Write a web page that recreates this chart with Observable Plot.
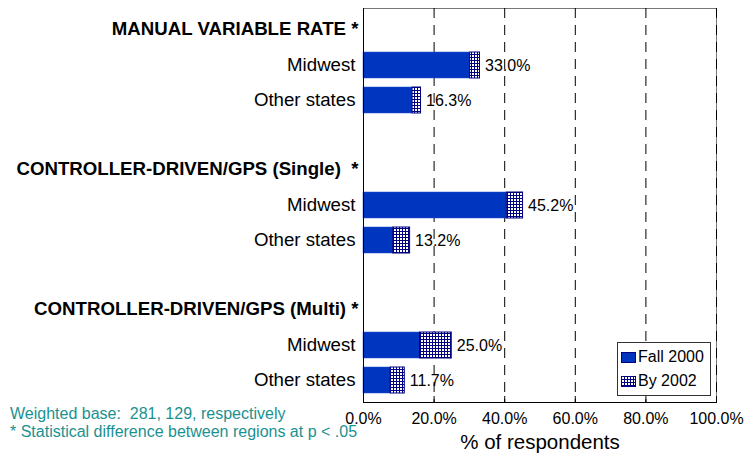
<!DOCTYPE html>
<html><head><meta charset="utf-8">
<script src="https://cdn.jsdelivr.net/npm/d3@7"></script>
<script src="https://cdn.jsdelivr.net/npm/@observablehq/plot@0.6"></script>
<style>
body{margin:0;background:#fff;font-family:"Liberation Sans",Arial,sans-serif;}
#wrap{position:relative;width:745px;height:471px;}
#legend{position:absolute;left:617px;top:342px;width:92px;height:52px;border:1px solid #333;background:#fff;font-size:16px;color:#000;}
#legend .item{position:absolute;left:3px;display:flex;align-items:center;height:18px;}
#legend svg{margin-right:2px;}
#notes{position:absolute;left:10px;top:405px;font-size:16px;line-height:18px;color:#1a9191;white-space:pre;}
</style></head><body><div id="wrap"></div>
<script>
const groups = ["MANUAL VARIABLE RATE *", "CONTROLLER-DRIVEN/GPS (Single)  *", "CONTROLLER-DRIVEN/GPS (Multi) *"];
const regions = ["Midwest", "Other states"];
const fall2000 = [30.2, 13.9, 40.6, 8.4, 16.0, 7.7];
const by2002 = [33.0, 16.3, 45.2, 13.2, 25.0, 11.7];
const xTicks = [0, 20, 40, 60, 80, 100];
const legendLabels = ["Fall 2000", "By 2002"];
const footnotes = ["Weighted base:  281, 129, respectively", "* Statistical difference between regions at p < .05"];
const xLabel = "% of respondents";

const BLUE = "#0035c0", NAVY = "#000080";

const rows = [];
groups.forEach((g, gi) => regions.forEach((r, ri) => {
  const i = gi * regions.length + ri;
  rows.push({key: `${gi}|${r}`, region: r, fall: fall2000[i], total: by2002[i]});
}));
const domain = [];
groups.forEach((g, gi) => {
  domain.push(`${gi}|title`);
  regions.forEach(r => domain.push(`${gi}|${r}`));
  if (gi < groups.length - 1) domain.push(`${gi}|gap`);
});
const titles = groups.map((g, gi) => ({key: `${gi}|title`, text: g}));

const chart = Plot.plot({
  width: 745, height: 471,
  marginLeft: 363, marginRight: 29, marginTop: 8, marginBottom: 69,
  style: {fontFamily: '"Liberation Sans", Arial, sans-serif', background: "#fff", color: "#000"},
  x: {domain: [0, 100]},
  y: {domain, paddingInner: 0.26, paddingOuter: 0.13},
  marks: [
    Plot.frame({stroke: "#777"}),
    Plot.ruleX(xTicks.slice(1), {x: d => d, stroke: "#000", strokeDasharray: "10,7"}),
    Plot.tickX(xTicks.slice(1), {x: d => d, stroke: "#000", insetTop: 388}),
    Plot.barX(rows, {y: "key", x1: 0, x2: "fall", fill: BLUE, stroke: "#2a4fd0", strokeWidth: 0.5}),
    Plot.barX(rows, {y: "key", x1: "fall", x2: "total", fill: "url(#grid)", stroke: NAVY, strokeWidth: 1}),
    Plot.text(rows, {y: "key", x: "total", text: d => d.total.toFixed(1) + "%", dx: 5, textAnchor: "start", fontSize: 16, fill: "#000"}),
    Plot.text(titles, {y: "key", text: "text", frameAnchor: "left", dx: -5, dy: -1, textAnchor: "end", fontWeight: "bold", fontSize: 18.67, fill: "#000"}),
    Plot.ruleX([0], {stroke: "#000"}),
    Plot.frame({anchor: "bottom", stroke: "#000"}),
    Plot.axisX({ticks: xTicks, tickFormat: d => d.toFixed(1) + "%", tickSize: 0, tickPadding: 10, fontSize: 16, label: null}),
    Plot.text([xLabel], {text: d => d, frameAnchor: "bottom", lineAnchor: "middle", dy: 40, fontSize: 20.5, fill: "#000"}),
    Plot.axisY({tickSize: 0, tickPadding: 8, fontSize: 18.67, label: null,
      tickFormat: k => { const r = k.split("|")[1]; return regions.includes(r) ? r : ""; }})
  ]
});

// pattern definition for the "By 2002" hatch
const ns = "http://www.w3.org/2000/svg";
const defs = document.createElementNS(ns, "defs");
defs.innerHTML = `<pattern id="grid" width="3" height="3" patternUnits="userSpaceOnUse">
<rect width="3" height="3" fill="#fff"/><path d="M0 0.5H3M0.5 0V3" stroke="${NAVY}" stroke-width="1"/></pattern>`;
chart.insertBefore(defs, chart.firstChild);

const wrap = document.getElementById("wrap");
wrap.appendChild(chart);

const legend = document.createElement("div");
legend.id = "legend";
const swatches = [
  `<svg width="15" height="11"><rect x="0.5" y="0.5" width="14" height="10" fill="${BLUE}" stroke="${NAVY}"/></svg>`,
  `<svg width="15" height="11"><defs><pattern id="grid2" width="3" height="3" patternUnits="userSpaceOnUse"><rect width="3" height="3" fill="#fff"/><path d="M0 0.5H3M0.5 0V3" stroke="${NAVY}" stroke-width="1"/></pattern></defs><rect x="0.5" y="0.5" width="14" height="10" fill="url(#grid2)" stroke="${NAVY}"/></svg>`
];
legendLabels.forEach((l, i) => {
  const it = document.createElement("div");
  it.className = "item";
  it.style.top = (5 + i * 24) + "px";
  it.innerHTML = swatches[i] + `<span>${l}</span>`;
  legend.appendChild(it);
});
wrap.appendChild(legend);

const notes = document.createElement("div");
notes.id = "notes";
notes.innerHTML = footnotes.map(f => `<div>${f.replace(/</g, "&lt;")}</div>`).join("");
wrap.appendChild(notes);
</script></body></html>
